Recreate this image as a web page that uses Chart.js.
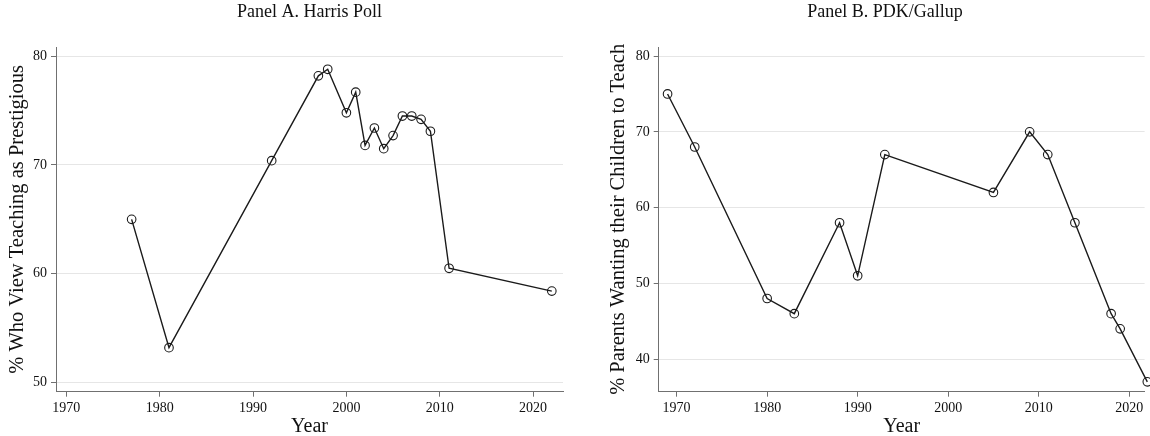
<!DOCTYPE html>
<html>
<head>
<meta charset="utf-8">
<script src="https://cdn.jsdelivr.net/npm/chart.js@4.4.1/dist/chart.umd.min.js"></script>
<style>
  html, body { margin: 0; padding: 0; background: #fff; }
  body { width: 1150px; height: 436px; position: relative; overflow: hidden; }
  .panel { position: absolute; top: 0; width: 575px; height: 436px; }
  #boxA { left: 0; }
  #boxB { left: 575px; }
</style>
</head>
<body>
<div class="panel" id="boxA"><canvas id="panelA"></canvas></div>
<div class="panel" id="boxB"><canvas id="panelB"></canvas></div>
<script>
// Panel A: Harris Poll
const yearsA = [1977, 1981, 1992, 1997, 1998, 2000, 2001, 2002, 2003, 2004, 2005, 2006, 2007, 2008, 2009, 2011, 2022];
const valuesA = [65.0, 53.2, 70.4, 78.2, 78.8, 74.8, 76.7, 71.8, 73.4, 71.5, 72.7, 74.5, 74.5, 74.2, 73.1, 60.5, 58.4];
const xTicksA = [1970, 1980, 1990, 2000, 2010, 2020];
const yTicksA = [50, 60, 70, 80];

// Panel B: PDK/Gallup
const yearsB = [1969, 1972, 1980, 1983, 1988, 1990, 1993, 2005, 2009, 2011, 2014, 2018, 2019, 2022];
const valuesB = [75, 68, 48, 46, 58, 51, 67, 62, 70, 67, 58, 46, 44, 37];
const xTicksB = [1970, 1980, 1990, 2000, 2010, 2020];
const yTicksB = [40, 50, 60, 70, 80];

const serif = "'Liberation Serif', 'Times New Roman', serif";
const ink = '#1a1a1a';
const axisGrey = '#707070';

function crearPanel(id, cfg) {
  return new Chart(document.getElementById(id), {
    type: 'line',
    data: {
      datasets: [{
        data: cfg.years.map((x, i) => ({ x: x, y: cfg.values[i] })),
        borderColor: ink,
        borderWidth: 1.4,
        pointStyle: 'circle',
        pointRadius: 4.3,
        pointBorderWidth: 1.1,
        pointBorderColor: ink,
        pointBackgroundColor: 'rgba(0,0,0,0)',
        tension: 0,
        clip: false,
      }],
    },
    options: {
      responsive: true,
      maintainAspectRatio: false,
      animation: false,
      layout: { padding: { left: cfg.padLeft, right: cfg.padRight, top: 0, bottom: 0 } },
      plugins: {
        legend: { display: false },
        tooltip: { enabled: false },
        title: {
          display: true,
          fullSize: cfg.titleFull,
          text: cfg.title,
          color: '#111',
          font: { family: serif, size: 18, weight: 'normal', lineHeight: 1 },
          padding: { top: 3, bottom: 26 },
        },
      },
      scales: {
        x: {
          type: 'linear',
          min: cfg.xMin,
          max: cfg.xMax,
          afterBuildTicks: (s) => { s.ticks = cfg.xTicks.map((v) => ({ value: v })); },
          afterFit: (s) => { s.height = 44.3; s.paddingLeft = 0; s.paddingRight = 0; },
          border: { color: axisGrey, width: 1 },
          grid: { drawOnChartArea: false, drawTicks: true, tickLength: 5, tickColor: axisGrey },
          ticks: {
            color: '#111',
            padding: 3,
            maxRotation: 0,
            font: { family: serif, size: 14 },
            callback: (v) => String(v),
          },
          title: {
            display: true,
            text: 'Year',
            color: '#111',
            font: { family: serif, size: 20, lineHeight: 1 },
            padding: { top: 0, bottom: -1 },
          },
        },
        y: {
          type: 'linear',
          min: cfg.yMin,
          max: cfg.yMax,
          afterBuildTicks: (s) => { s.ticks = cfg.yTicks.map((v) => ({ value: v })); },
          afterFit: (s) => { s.width = cfg.yWidth; },
          border: { color: axisGrey, width: 1 },
          grid: { color: '#e6e6e6', lineWidth: 1, drawTicks: true, tickLength: 5, tickColor: axisGrey },
          ticks: {
            color: '#111',
            padding: 4,
            font: { family: serif, size: 14 },
            callback: (v) => String(v),
          },
          title: {
            display: true,
            text: cfg.yTitle,
            color: '#111',
            font: { family: serif, size: 20.5, lineHeight: 1 },
            padding: { top: cfg.yTitleShift, bottom: 0 },
          },
        },
      },
    },
  });
}

crearPanel('panelA', {
  title: 'Panel A. Harris Poll',
  yTitle: '% Who View Teaching as Prestigious',
  years: yearsA, values: valuesA, xTicks: xTicksA, yTicks: yTicksA,
  xMin: 1968.9, xMax: 2023.2, yMin: 49.15, yMax: 80.85,
  padLeft: 0, padRight: 12, yWidth: 56, yTitleShift: 7, titleFull: false,
});

crearPanel('panelB', {
  title: 'Panel B. PDK/Gallup',
  yTitle: '% Parents Wanting their Children to Teach',
  years: yearsB, values: valuesB, xTicks: xTicksB, yTicks: yTicksB,
  xMin: 1968.02, xMax: 2021.7, yMin: 35.7, yMax: 81.2,
  padLeft: 45, padRight: 0, yWidth: 38.7, yTitleShift: -12, titleFull: true,
});
</script>
</body>
</html>
